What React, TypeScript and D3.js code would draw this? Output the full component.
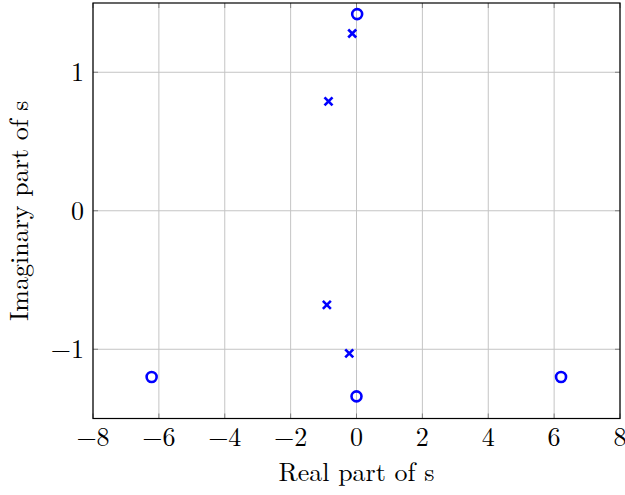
import React from "react";
import * as d3 from "d3";

const zerosRe = [0.02, -6.22, 0.0, 6.21];
const zerosIm = [1.42, -1.2, -1.34, -1.2];
const polesRe = [-0.13, -0.85, -0.9, -0.22];
const polesIm = [1.28, 0.79, -0.68, -1.03];
const xTicks = [-8, -6, -4, -2, 0, 2, 4, 6, 8];
const yTicks = [-1, 0, 1];

const W = 625, H = 495;
const L = 93, R = 620, T = 3, B = 418.5;
const FONT = "'Latin Modern Roman', 'Liberation Serif', serif";
const FS = 26;

export default function App() {
  const x = d3.scaleLinear().domain([-8, 8]).range([L, R]);
  const y = d3.scaleLinear().domain([-1.5, 1.5]).range([B, T]);
  const fmt = (v: number) => (v < 0 ? "\u2212" + Math.abs(v) : String(v));
  const blue = "#0000ff";
  const cs = 4;
  return (
    <svg width={W} height={H} style={{ position: "absolute", left: 0, top: 0 }}>
      <rect x={0} y={0} width={W} height={H} fill="#fff" />
      {xTicks.map((t) => (
        <line key={"gx" + t} x1={x(t)} x2={x(t)} y1={T} y2={B} stroke="#c4c4c4" strokeWidth={1} />
      ))}
      {yTicks.map((t) => (
        <line key={"gy" + t} x1={L} x2={R} y1={y(t)} y2={y(t)} stroke="#c4c4c4" strokeWidth={1} />
      ))}
      {xTicks.map((t) => (
        <g key={"tx" + t}>
          <line x1={x(t)} x2={x(t)} y1={B} y2={B - 5} stroke="#808080" strokeWidth={1} />
          <line x1={x(t)} x2={x(t)} y1={T} y2={T + 5} stroke="#808080" strokeWidth={1} />
          <text x={x(t)} y={B + 27} textAnchor="middle" fontFamily={FONT} fontSize={FS} fill="#000">
            {fmt(t)}
          </text>
        </g>
      ))}
      {yTicks.map((t) => (
        <g key={"ty" + t}>
          <line x1={L} x2={L + 5} y1={y(t)} y2={y(t)} stroke="#808080" strokeWidth={1} />
          <line x1={R} x2={R - 5} y1={y(t)} y2={y(t)} stroke="#808080" strokeWidth={1} />
          <text x={L - 9} y={y(t) + 9} textAnchor="end" fontFamily={FONT} fontSize={FS} fill="#000">
            {fmt(t)}
          </text>
        </g>
      ))}
      <rect x={L} y={T} width={R - L} height={B - T} fill="none" stroke="#000" strokeWidth={1.2} />
      {zerosRe.map((re, i) => (
        <circle key={"z" + i} cx={x(re)} cy={y(zerosIm[i])} r={5} fill="none" stroke={blue} strokeWidth={2.6} />
      ))}
      {polesRe.map((re, i) => {
        const cx = x(re), cy = y(polesIm[i]);
        return (
          <g key={"p" + i} stroke={blue} strokeWidth={2.6}>
            <line x1={cx - cs} x2={cx + cs} y1={cy - cs} y2={cy + cs} />
            <line x1={cx - cs} x2={cx + cs} y1={cy + cs} y2={cy - cs} />
          </g>
        );
      })}
      <text x={(L + R) / 2} y={481} textAnchor="middle" fontFamily={FONT} fontSize={FS} fill="#000">
        Real part of s
      </text>
      <text
        transform={`translate(28, ${(T + B) / 2}) rotate(-90)`}
        textAnchor="middle"
        fontFamily={FONT}
        fontSize={FS}
        fill="#000"
      >
        Imaginary part of s
      </text>
    </svg>
  );
}
